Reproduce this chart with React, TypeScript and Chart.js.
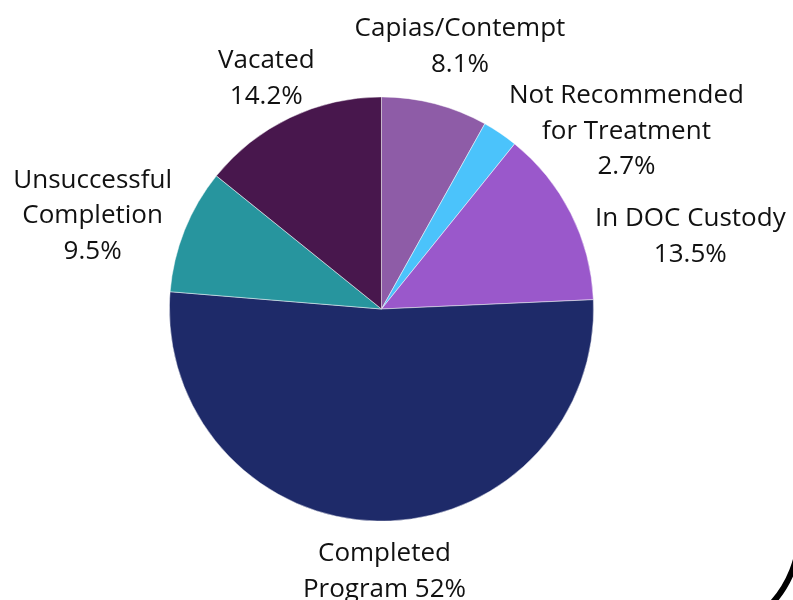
import React, { useEffect, useRef } from "react";
import { Chart, registerables } from "chart.js";

Chart.register(...registerables);

const categories = [
  "Capias/Contempt",
  "Not Recommended for Treatment",
  "In DOC Custody",
  "Completed Program",
  "Unsuccessful Completion",
  "Vacated",
];
const values = [8.1, 2.7, 13.5, 52, 9.5, 14.2];
const labelLines = [
  ["Capias/Contempt", "8.1%"],
  ["Not Recommended", "for Treatment", "2.7%"],
  ["In DOC Custody", "13.5%"],
  ["Completed", "Program 52%"],
  ["Unsuccessful", "Completion", "9.5%"],
  ["Vacated", "14.2%"],
];
const colors = ["#8E5CA7", "#4BC3FB", "#9A58CB", "#1E2A69", "#27959E", "#48174D"];
// label block centre offsets from pie centre, in units of the radius
const labelOffsets = [
  [0.37, -1.247],
  [1.155, -0.847],
  [1.456, -0.35],
  [0.014, 1.23],
  [-1.362, -0.447],
  [-0.543, -1.096],
];

const labelPlugin = {
  id: "pieLabels",
  afterDraw(chart: any) {
    const ctx = chart.ctx;
    const meta = chart.getDatasetMeta(0);
    const arc0 = meta.data[0];
    if (!arc0) return;
    const cx = arc0.x;
    const cy = arc0.y;
    const r = arc0.outerRadius;
    ctx.save();
    ctx.font = "26px 'Open Sans'";
    ctx.fillStyle = "#111111";
    ctx.textAlign = "center";
    ctx.textBaseline = "alphabetic";
    const lh = 35.5;
    labelLines.forEach((lines, i) => {
      const bx = cx + labelOffsets[i][0] * r;
      const by = cy + labelOffsets[i][1] * r;
      const n = lines.length;
      lines.forEach((t, j) => {
        const yc = by + (j - (n - 1) / 2) * lh;
        ctx.fillText(t, bx, yc + 9.3);
      });
    });
    // decorative border arc in bottom-right corner
    ctx.beginPath();
    ctx.lineWidth = 6;
    ctx.strokeStyle = "#000000";
    ctx.arc(690, 530, 110, 0, Math.PI / 2);
    ctx.stroke();
    ctx.restore();
  },
};

export default function App() {
  const ref = useRef<HTMLCanvasElement>(null);
  useEffect(() => {
    if (!ref.current) return;
    const chart = new Chart(ref.current, {
      type: "pie",
      data: {
        labels: categories,
        datasets: [
          {
            data: values,
            backgroundColor: colors,
            borderColor: "rgba(255,255,255,0.6)",
            borderWidth: 0.8,
          },
        ],
      },
      options: {
        responsive: false,
        animation: false,
        layout: { padding: { top: 96.5, bottom: 78.5, left: 100, right: 130 } },
        plugins: { legend: { display: false }, tooltip: { enabled: false } },
      },
      plugins: [labelPlugin],
    });
    return () => chart.destroy();
  }, []);
  return (
    <div style={{ position: "fixed", left: 0, top: 0, width: 793, height: 600, background: "#fff" }}>
      <canvas ref={ref} width={793} height={600} />
    </div>
  );
}
